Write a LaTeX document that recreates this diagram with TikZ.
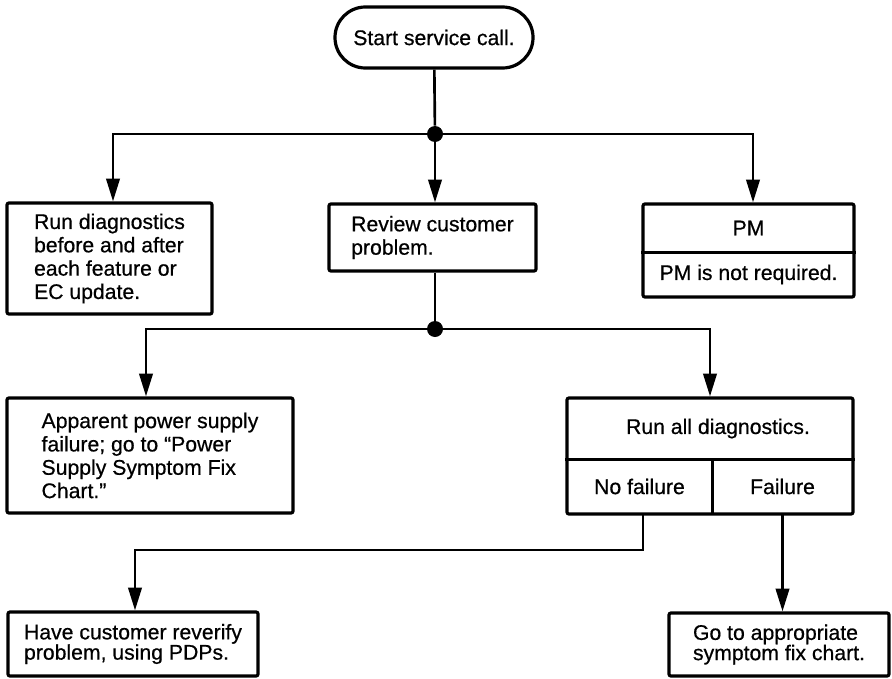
\documentclass[tikz,border=0pt]{standalone}
\usepackage{fontspec}
\setmainfont[FakeBold=0.6]{Liberation Sans}
\usetikzlibrary{arrows.meta}
\begin{document}
\begin{tikzpicture}[x=0.75pt,y=-0.75pt,
  wire/.style={line width=2pt},
  arr/.style={wire,-{Triangle[length=17pt,width=10pt]}},
  divider/.style={line width=2pt},
  box/.style={draw,line width=2.4pt,rounded corners=1.5pt,inner sep=0pt,
    font=\fontsize{15.9}{17.5}\selectfont,align=left},
  lowbox/.style={box,font=\fontsize{15.9}{15.2}\selectfont},
  cell/.style={inner sep=0pt,font=\fontsize{15.9}{17.5}\selectfont},
  junction/.style={circle,fill,inner sep=0pt,minimum size=12pt}]
\useasboundingbox (0,0) rectangle (892,678);

% terminal
\node[box,rounded corners=22.8pt,minimum width=148.5pt,minimum height=45.75pt,align=center]
  (start) at (434,37.5) {Start service call.};

% first branch
\node[junction] (d1) at (435,134) {};
\coordinate (l1) at (113,134);
\coordinate (r1) at (753,134);

\node[box,minimum width=153.75pt,minimum height=83.25pt] (diag) at (109.5,258.5)
  {Run diagnostics\\before and after\\each feature or\\EC update.};
\node[box,minimum width=155.25pt,minimum height=50.25pt] (review) at (432.5,237.5)
  {Review customer\\problem.};
\node[box,minimum width=158.25pt,minimum height=69.75pt] (pm) at (748.5,250.5) {};
\node[cell,minimum height=36pt] (pmhead) at (748.5,228) {PM};
\node[cell] (pmbody) at (748.5,274.5) {PM is not required.};
\draw[divider] (pm.west |- pmhead.south) -- (pm.east |- pmhead.south);

\draw[wire] (start) -- (d1);
\draw[arr] (d1) -- (l1) -- (l1 |- diag.north);
\draw[arr] (d1) -- (r1) -- (r1 |- pm.north);
\draw[arr] (d1) -- (d1 |- review.north);

% second branch
\node[junction] (d2) at (435,329) {};
\coordinate (l2) at (146,329);
\coordinate (r2) at (710,329);

\node[box,minimum width=214.5pt,minimum height=86.25pt] (power) at (150,455.5)
  {Apparent power supply\\failure; go to “Power\\Supply Symptom Fix\\Chart.”};
\node[box,minimum width=214.5pt,minimum height=87pt] (runall) at (710,456) {};
\node[cell,minimum height=45.75pt] (runhead) at (718,428.5) {Run all diagnostics.};
\node[cell,minimum width=108.75pt,minimum height=41.25pt] (nofail) at (639.5,486.5) {No failure};
\node[cell,minimum width=105.75pt,minimum height=41.25pt] (fail) at (782.5,486.5) {Failure};
\draw[divider] (runall.west |- runhead.south) -- (runall.east |- runhead.south);
\draw[divider] (nofail.north east) -- (nofail.south east);

\draw[wire] (d1 |- review.south) -- (d2);
\draw[arr] (d2) -- (l2) -- (l2 |- power.north);
\draw[arr] (d2) -- (r2) -- (r2 |- runall.north);

% outcomes
\node[lowbox,minimum width=187.5pt,minimum height=48pt] (have) at (133,644)
  {Have customer reverify\\problem, using PDPs.};
\node[lowbox,minimum width=165pt,minimum height=47.25pt] (go) at (779,644.5)
  {Go to appropriate\\symptom fix chart.};

\coordinate (k) at (135,550);
\draw[arr] ([xshift=2.6pt]nofail.south) |- (k) -- (k |- have.north);
\draw[arr] (fail.south) -- (fail.south |- go.north);
\end{tikzpicture}
\end{document}
